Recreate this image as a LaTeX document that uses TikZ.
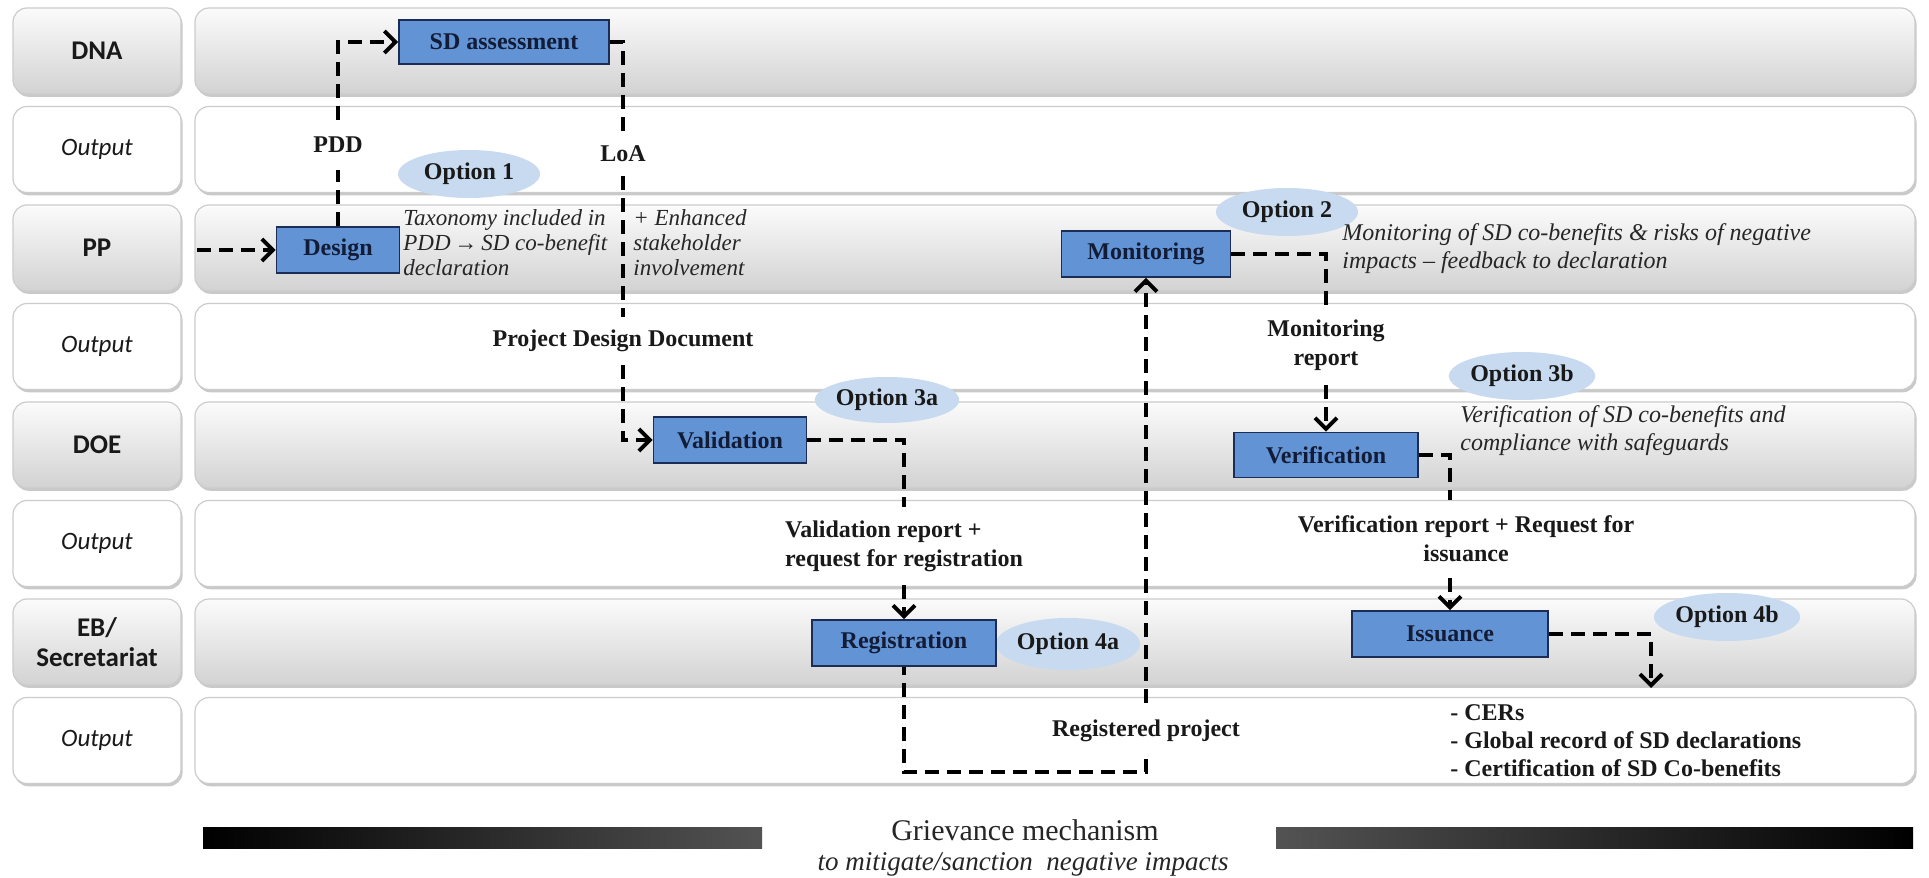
\documentclass[tikz,border=0pt]{standalone}
\usepackage{fontspec}
\setmainfont{Liberation Serif}
\newfontfamily\labfont{Carlito}
\usetikzlibrary{shapes.geometric,arrows.meta,shadows}
\definecolor{boxfill}{RGB}{98,147,212}
\definecolor{boxborder}{RGB}{28,45,85}
\definecolor{boxtext}{RGB}{18,28,55}
\definecolor{optfill}{RGB}{199,218,240}
\tikzset{
  lanebox/.style={rounded corners=7pt, draw=gray!40, line width=0.6pt,
    drop shadow={shadow xshift=0.8pt, shadow yshift=-1.4pt, opacity=0.35, fill=gray!80!black}},
  graylane/.style={lanebox, top color=gray!3, bottom color=gray!35},
  whitelane/.style={lanebox, fill=white},
  rowlab/.style={font=\labfont\bfseries\fontsize{13.5}{15}\selectfont, text=black!90, align=center, inner sep=0pt},
  rowout/.style={font=\labfont\itshape\fontsize{12.5}{15}\selectfont, text=black!90, inner sep=0pt},
  box/.style={draw=boxborder, line width=0.8pt, fill=boxfill, font=\bfseries\fontsize{12}{14}\selectfont, text=boxtext, inner sep=0pt},
  opt/.style={ellipse, fill=optfill, inner sep=0pt, minimum width=71pt, minimum height=24pt, font=\bfseries\fontsize{12}{14}\selectfont, text=black!90},
  lbl/.style={font=\bfseries\fontsize{12}{14.5}\selectfont, text=black!90, inner sep=0pt},
  note/.style={font=\itshape\fontsize{11.5}{12.5}\selectfont, align=left, anchor=west, inner sep=0pt, text=black!85},
  flow/.style={line width=2pt, dash pattern=on 7pt off 4pt},
  arr/.style={-{Straight Barb[length=5.5pt,width=11pt]}}
}
\begin{document}
\begin{tikzpicture}[x=0.5pt,y=-0.5pt]
\useasboundingbox (0,0) rectangle (1929,878);
\fill[white] (0,0) rectangle (1929,878);

% lanes
\foreach \i in {0,2,4,6} {
  \path[graylane] (13,{8+98.5*\i}) rectangle (181,{94+98.5*\i});
  \path[graylane] (195,{8+98.5*\i}) rectangle (1915,{94+98.5*\i});
}
\foreach \i in {1,3,5,7} {
  \path[whitelane] (13,{8+98.5*\i}) rectangle (181,{94+98.5*\i});
  \path[whitelane] (195,{8+98.5*\i}) rectangle (1915,{94+98.5*\i});
}

% row labels
\node[rowlab] (lDNA) at (97,51) {DNA};
\node[rowout] (lOut1) at (97,149.5) {Output};
\node[rowlab] (lPP) at (97,248) {PP};
\node[rowout] (lOut2) at (97,346.5) {Output};
\node[rowlab] (lDOE) at (97,445) {DOE};
\node[rowout] (lOut3) at (97,543.5) {Output};
\node[rowlab] (lEB) at (97,642) {EB/\\Secretariat};
\node[rowout] (lOut4) at (97,740.5) {Output};

% option ellipses
\node[opt] (o1) at (469,174) {Option 1};
\node[opt] (o2) at (1287,212) {Option 2};
\node[opt, minimum height=23pt] (o3a) at (887,400) {Option 3a};
\node[opt] (o3b) at (1522,376) {Option 3b};
\node[opt, minimum height=26pt] (o4a) at (1068,644) {Option 4a};
\node[opt] (o4b) at (1727,617) {Option 4b};

% process boxes
\node[box, minimum width=105pt, minimum height=22pt] (sd) at (504,42) {SD assessment};
\node[box, minimum width=61.5pt, minimum height=23pt] (design) at (338,250) {Design};
\node[box, minimum width=76.5pt, minimum height=23pt] (val) at (730,440) {Validation};
\node[box, minimum width=92pt, minimum height=23pt] (reg) at (904,643) {Registration};
\node[box, minimum width=84.5pt, minimum height=23pt] (mon) at (1146,254) {Monitoring};
\node[box, minimum width=92pt, minimum height=22.5pt] (ver) at (1326,455) {Verification};
\node[box, minimum width=98pt, minimum height=23pt] (iss) at (1450,634) {Issuance};

% notes
\node[note] (n1) at (403,243) {Taxonomy included in\\PDD\,\textrightarrow\,SD co-benefit\\declaration};
\node[note] (n2) at (633,243) {+ Enhanced\\stakeholder\\involvement};
\node[note, font=\itshape\fontsize{12}{14}\selectfont] (n3) at (1342,249) {Monitoring of SD co-benefits \& risks of negative\\impacts -- feedback to declaration};
\node[note, font=\itshape\fontsize{12}{14}\selectfont] (n4) at (1460,431) {Verification of SD co-benefits and\\compliance with safeguards};

% connector labels
\node[lbl, minimum height=25pt] (pdd) at (338,145) {PDD};
\node[lbl, minimum height=22pt] (loa) at (623,154) {LoA};
\node[lbl, minimum height=24pt] (pdoc) at (623,341) {Project Design Document};
\node[lbl, align=left, minimum height=39pt] (vrep) at (904,546) {Validation report +\\request for registration};
\node[lbl, minimum height=28pt] (rproj) at (1146,731) {Registered project};
\node[lbl, align=center, minimum height=40pt] (mrep) at (1326,345) {Monitoring\\report};
\node[lbl, align=center, minimum height=39pt] (virep) at (1466,539) {Verification report + Request for\\issuance};
\node[lbl, align=left, anchor=west, font=\bfseries\fontsize{12}{14}\selectfont] (outs) at (1450,741)
  {- CERs\\- Global record of SD declarations\\- Certification of SD Co-benefits};

% connectors
\coordinate (start) at (197,250);
\coordinate (rcorner) at (1146,772);
\coordinate (issout) at (1651,688);
\draw[flow,arr] (start) -- (design.west);
\draw[flow] (design.north) -- (pdd.south);
\draw[flow,arr] (pdd.north) |- (sd.west);
\draw[flow] (sd.east) -| (loa.north);
\draw[flow] (loa.south) -- (pdoc.north);
\draw[flow,arr] (pdoc.south) |- (val.west);
\draw[flow] (val.east) -| (vrep.north);
\draw[flow,arr] (vrep.south) -- (reg.north);
\draw[flow] (rproj.south) -- (rcorner) -| (reg.south);
\draw[flow,arr] (rproj.north) -- (mon.south);
\draw[flow] (mon.east) -| (mrep.north);
\draw[flow,arr] (mrep.south) -- (ver.north);
\draw[flow] (ver.east) -| (virep.north -| iss.north);
\draw[flow,arr] (virep.south -| iss.north) -- (iss.north);
\draw[flow,arr] (iss.east) -| (issout);

% grievance bars
\shade[left color=black, right color=gray!65!black] (203,827) rectangle (762,848);
\shade[left color=gray!65!black, right color=black] (1276,827) rectangle (1913,848);
\node[font=\fontsize{15}{18}\selectfont, text=black!85, inner sep=0pt] (griev) at (1025,830) {Grievance mechanism};
\node[font=\itshape\fontsize{13.5}{16}\selectfont, text=black!85, inner sep=0pt] (griev2) at (1023,864) {to mitigate/sanction\ \ negative impacts};
\end{tikzpicture}
\end{document}
